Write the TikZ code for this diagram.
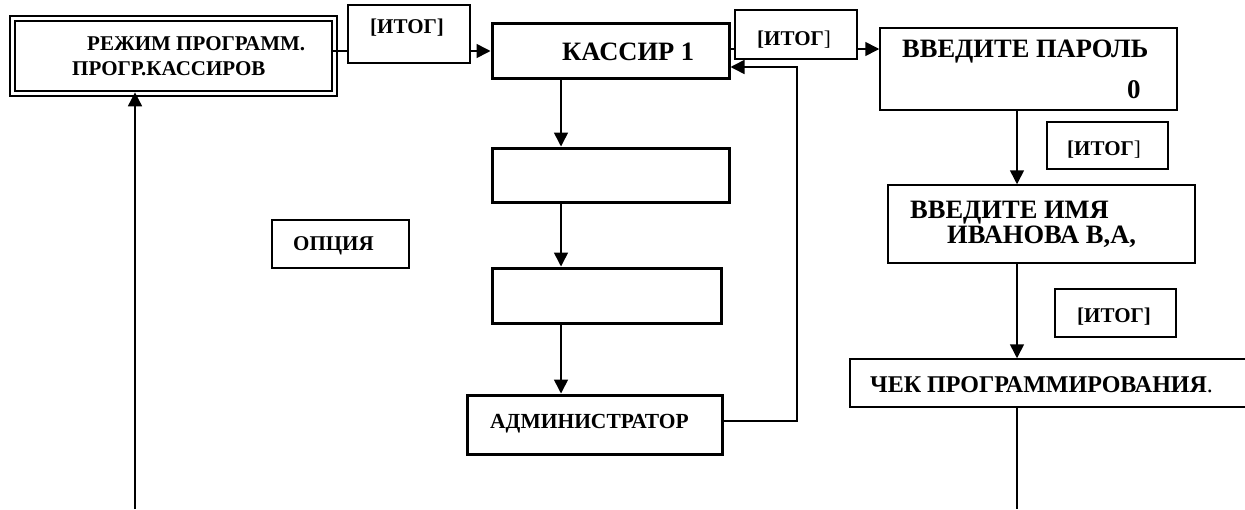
\documentclass[tikz,border=0pt]{standalone}
\usepackage{fontspec}
\setmainfont{Liberation Serif}
\usetikzlibrary{arrows.meta,calc}
\begin{document}
\begin{tikzpicture}[x=1pt,y=-1pt,
  thinbox/.style={draw,line width=1.5pt,inner sep=0pt},
  thickbox/.style={draw,line width=3pt,inner sep=0pt},
  txt/.style={anchor=base west,inner sep=0pt,font=\bfseries},
  conn/.style={line width=1.6pt},
  arr/.style={line width=1.6pt,-{Triangle[length=14pt,width=14pt]}}]
\useasboundingbox[fill=white] (0,0) rectangle (1245,509);
% boxes
\path[draw,line width=1.3pt] (10,16) rectangle (337,96);
\node[draw,line width=2.6pt,inner sep=0pt,minimum width=317pt,minimum height=70pt] (rezhim) at (173.5,56) {};
\node[thinbox,minimum width=122pt,minimum height=58pt] (itog1) at (409,34) {};
\node[thickbox,minimum width=237pt,minimum height=55pt] (kassir) at (610.5,50.5) {};
\node[thinbox,minimum width=122pt,minimum height=49pt] (itog2) at (796,34.5) {};
\node[thinbox,minimum width=297pt,minimum height=82pt] (parol) at (1028.5,69) {};
\node[thickbox,minimum width=237pt,minimum height=54pt] (b2) at (610.5,175) {};
\node[thickbox,minimum width=229pt,minimum height=55pt] (b3) at (606.5,295.5) {};
\node[thickbox,minimum width=255pt,minimum height=59pt] (admin) at (594.5,424.5) {};
\node[thinbox,minimum width=137pt,minimum height=48pt] (opcia) at (340.5,244) {};
\node[thinbox,minimum width=121pt,minimum height=47pt] (itog3) at (1107.5,145.5) {};
\node[thinbox,minimum width=307pt,minimum height=78pt] (imya) at (1041.5,224) {};
\node[thinbox,minimum width=121pt,minimum height=48pt] (itog4) at (1115.5,313) {};
\node[thinbox,minimum width=410pt,minimum height=48pt] (chek) at (1055,383) {};
% texts
\node[txt,font=\bfseries\fontsize{21}{24}\selectfont] (t1) at (87,50) {РЕЖИМ ПРОГРАММ.};
\node[txt,font=\bfseries\fontsize{21}{24}\selectfont] (t2) at (72,75) {ПРОГР.КАССИРОВ};
\node[txt,font=\bfseries\fontsize{21}{24}\selectfont] (t3) at (370,33) {[ИТОГ]};
\node[txt,font=\bfseries\fontsize{26.5}{30}\selectfont] (t4) at (562,60) {КАССИР 1};
\node[txt,font=\fontsize{21}{24}\selectfont] (t5) at (757,45) {\textbf{[ИТОГ}]};
\node[txt,font=\bfseries\fontsize{26.5}{30}\selectfont] (t6) at (902,57) {ВВЕДИТЕ ПАРОЛЬ};
\node[txt,font=\bfseries\fontsize{27}{30}\selectfont] (t7) at (1127,98) {0};
\node[txt,font=\fontsize{21}{24}\selectfont] (t8) at (1067,155) {\textbf{[ИТОГ}]};
\node[txt,font=\bfseries\fontsize{26.5}{30}\selectfont] (t9) at (910,218) {ВВЕДИТЕ ИМЯ};
\node[txt,font=\bfseries\fontsize{26.5}{30}\selectfont] (t10) at (947,243) {ИВАНОВА В,А,};
\node[txt,font=\bfseries\fontsize{21}{24}\selectfont] (t11) at (293,250) {ОПЦИЯ};
\node[txt,font=\bfseries\fontsize{21}{24}\selectfont] (t12) at (1077,322) {[ИТОГ]};
\node[txt,font=\bfseries\fontsize{21.5}{24}\selectfont] (t13) at (490,428) {АДМИНИСТРАТОР};
\node[txt,font=\fontsize{24}{26}\selectfont] (t14) at (870,392) {\textbf{ЧЕК ПРОГРАММИРОВАНИЯ}.};
% connectors
\coordinate (bl) at (135,509);
\coordinate (br) at (1017,509);
\coordinate (vx) at (561,0);
\coordinate (fbx) at (797,0);
\coordinate (h1) at (0,51);
\coordinate (h2) at (0,49);
\coordinate (h3) at (0,67);
\coordinate (h4) at (0,421);
\draw[conn] (rezhim.east |- h1) -- (itog1.west |- h1);
\draw[arr] (itog1.east |- h1) -- (kassir.west |- h1);
\draw[conn] (kassir.east |- h2) -- (itog2.west |- h2);
\draw[arr] (itog2.east |- h2) -- (parol.west |- h2);
\draw[arr] (kassir.south -| vx) -- (b2.north -| vx);
\draw[arr] (b2.south -| vx) -- (b3.north -| vx);
\draw[arr] (b3.south -| vx) -- (admin.north -| vx);
\draw[arr] (admin.east |- h4) -| (fbx |- h3) -- (kassir.east |- h3);
\draw[arr] (parol.south -| br) -- (imya.north -| br);
\draw[arr] (imya.south -| br) -- (chek.north -| br);
\draw[conn] (chek.south -| br) -- (br);
\draw[arr] (bl) -- (rezhim.south -| bl);
\end{tikzpicture}
\end{document}
